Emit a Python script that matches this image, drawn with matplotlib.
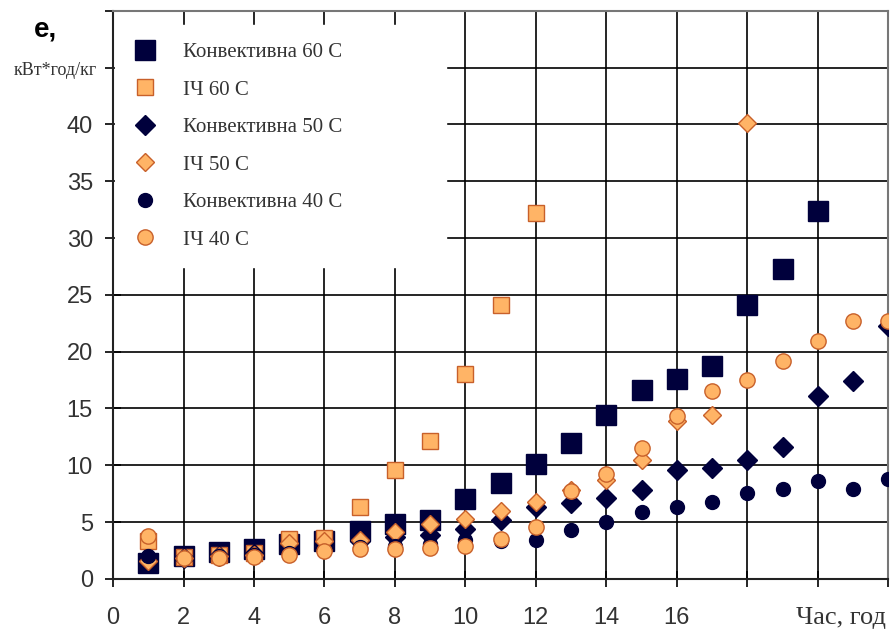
import matplotlib
matplotlib.use('Agg')
import matplotlib.pyplot as plt
import numpy as np

# drying time, hours
hours = np.arange(1, 23)

# specific energy, kWh/kg
conv_60 = [1.4, 2.0, 2.4, 2.6, 3.1, 3.3, 4.2, 4.85, 5.15, 7.0, 8.4, 10.1,
           12.0, 14.4, 16.6, 17.6, 18.75, 24.1, 27.3, 32.4]
ir_60 = [3.3, 1.9, 2.1, 2.3, 3.5, 3.6, 6.3, 9.6, 12.1, 18.0, 24.1, 32.2]
conv_50 = [1.7, 1.8, 2.0, 2.2, 2.8, 3.1, 3.3, 3.7, 3.9, 4.4, 5.2, 6.3,
           6.7, 7.1, 7.8, 9.6, 9.8, 10.5, 11.6, 16.1, 17.4, 22.3]
ir_50 = [1.6, 1.8, 2.0, 2.1, 3.2, 3.3, 3.4, 4.1, 4.8, 5.3, 6.0, 6.8,
         7.8, 8.7, 10.5, 13.9, 14.4, 40.1]
conv_40 = [2.0, 1.8, 2.0, 2.1, 2.3, 2.5, 2.8, 2.9, 3.1, 3.4, 3.3, 3.4,
           4.3, 5.0, 5.9, 6.3, 6.8, 7.6, 7.9, 8.6, 7.9, 8.8]
ir_40 = [3.8, 1.8, 1.8, 1.9, 2.1, 2.5, 2.6, 2.6, 2.7, 2.9, 3.5, 4.6,
         7.7, 9.2, 11.5, 14.3, 16.5, 17.5, 19.2, 20.9, 22.7, 22.7]

labels = ['Конвективна 60 C', 'ІЧ 60 C', 'Конвективна 50 C',
          'ІЧ 50 C', 'Конвективна 40 C', 'ІЧ 40 C']
x_ticks = [0, 2, 4, 6, 8, 10, 12, 14, 16, 18, 20, 22]
x_ticklabels = ['0', '2', '4', '6', '8', '10', '12', '14', '16', '', '', '']
y_ticks = [0, 5, 10, 15, 20, 25, 30, 35, 40, 45, 50]
y_ticklabels = ['0', '5', '10', '15', '20', '25', '30', '35', '40', '', '']

navy = '#00003c'
orange = '#ffb466'
orange_edge = '#c8602a'

fig = plt.figure(figsize=(8.9, 6.32), dpi=100)
ax = fig.add_axes([0.127, 0.084, 0.871, 0.899])

series = [
    (conv_60, 's', 15, navy, navy),
    (ir_60, 's', 11.5, orange, orange_edge),
    (conv_50, 'D', 10, navy, navy),
    (ir_50, 'D', 9, orange, orange_edge),
    (conv_40, 'o', 10, navy, navy),
    (ir_40, 'o', 11, orange, orange_edge),
]
for (vals, mk, ms, fc, ec), lab in zip(series, labels):
    ax.plot(hours[:len(vals)], vals, linestyle='none', marker=mk, markersize=ms,
            markerfacecolor=fc, markeredgecolor=ec, markeredgewidth=1,
            label=lab, zorder=3)

ax.set_xlim(0, 22)
ax.set_ylim(0, 50)
ax.set_xticks(x_ticks)
ax.set_xticklabels(x_ticklabels)
ax.set_yticks(y_ticks)
ax.set_yticklabels(y_ticklabels)
ax.grid(True, color='black', linewidth=1.2)
ax.set_axisbelow(True)
ax.tick_params(direction='inout', length=11, width=1.2, pad=9,
               labelsize=17, labelcolor='#333333')
ax.tick_params(axis='x', pad=15)
for lab in ax.get_xticklabels() + ax.get_yticklabels():
    lab.set_fontfamily('Liberation Sans')
for side in ['left', 'bottom']:
    ax.spines[side].set_color('#222222')
    ax.spines[side].set_linewidth(1.5)
for side in ['top', 'right']:
    ax.spines[side].set_color('#777777')
    ax.spines[side].set_linewidth(1.5)

leg = ax.legend(loc='upper left', bbox_to_anchor=(0.002, 0.4, 0.428, 0.575),
                mode='expand', prop={'family': 'Liberation Serif', 'size': 15},
                frameon=True, fancybox=False, framealpha=1, edgecolor='white',
                borderpad=0.85, handlelength=1.2, handletextpad=1.23,
                labelspacing=0.86, borderaxespad=0)
for t in leg.get_texts():
    t.set_color('#333333')
leg.set_zorder(5)

# axis captions
fig.text(0.051, 0.954, 'e,', fontsize=20, fontweight='bold',
         family='Liberation Sans', ha='center', va='center')
fig.text(0.062, 0.889, 'кВт*год/кг', fontsize=13, family='Liberation Serif',
         ha='center', va='center', color='#333333')
fig.text(0.996, 0.022, 'Час, год', fontsize=19, family='Liberation Serif',
         ha='right', va='center', color='#333333')

plt.savefig('out.png', dpi=100)
